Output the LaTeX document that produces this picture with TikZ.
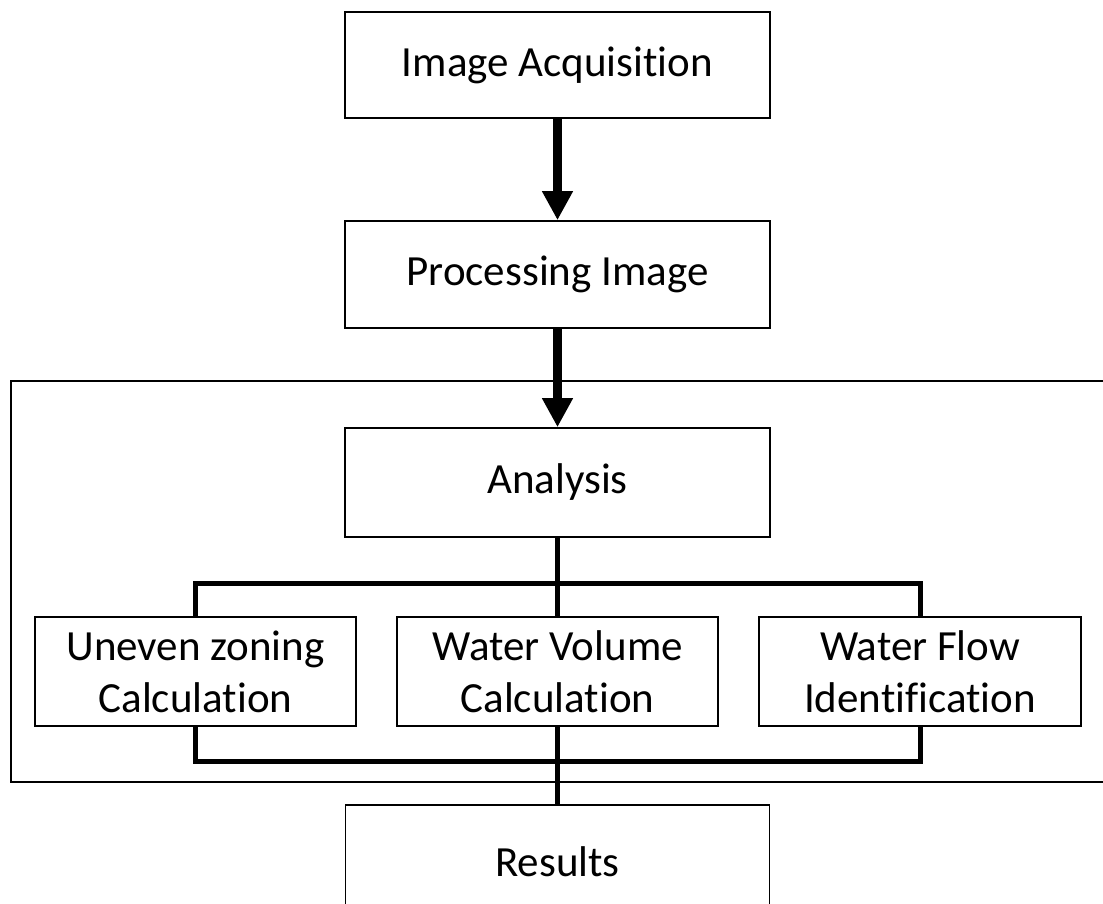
\documentclass[tikz,border=0pt]{standalone}
\usepackage{fontspec}
\setmainfont[Ligatures=NoCommon]{Carlito}
\usetikzlibrary{arrows.meta}
\begin{document}
\begin{tikzpicture}[x=1pt,y=-1pt,
  box/.style={draw=black,line width=1.6pt,fill=white,inner sep=0pt,align=center,
    font=\fontsize{43}{52}\selectfont},
  conn/.style={line width=5pt,line cap=butt},
  flowarrow/.style={line width=9pt,-{Triangle[width=29pt,length=29pt]}},
  frame/.style={draw=black,line width=1.6pt}]
\useasboundingbox (0,0) rectangle (1103,904);
\begin{scope}
\clip (0,0) rectangle (1103,904);
\draw[frame] (11,381) rectangle (1120,782);
\coordinate (tb) at (557.5,583);
\coordinate (bb) at (557.5,761);
\node[box,minimum width=425pt,minimum height=106pt] (acq) at (557.5,65) {Image Acquisition};
\node[box,minimum width=425pt,minimum height=107pt] (proc) at (557.5,274.5) {Processing Image};
\node[box,minimum width=425pt,minimum height=109pt] (ana) at (557.5,482.5) {Analysis};
\node[box,minimum width=321pt,minimum height=109pt] (unev) at (195.5,671.5) {Uneven zoning\\Calculation};
\node[box,minimum width=321pt,minimum height=109pt] (vol) at (557.5,671.5) {Water Volume\\Calculation};
\node[box,minimum width=322pt,minimum height=109pt] (flow) at (920,671.5) {Water Flow\\Identification};
\node[box,minimum width=424pt,minimum height=114pt,text depth=0pt] (res) at (557.5,862) {Results};
\draw[conn] (unev.north) -- (unev.north |- tb) -- (flow.north |- tb) -- (flow.north);
\draw[conn] (ana.south) -- (vol.north);
\draw[conn] (unev.south) -- (unev.south |- bb) -- (flow.south |- bb) -- (flow.south);
\draw[conn] (vol.south) -- (res.north);
\draw[flowarrow] (acq.south) -- (proc.north);
\draw[flowarrow] (proc.south) -- (ana.north);
\end{scope}
\end{tikzpicture}
\end{document}
